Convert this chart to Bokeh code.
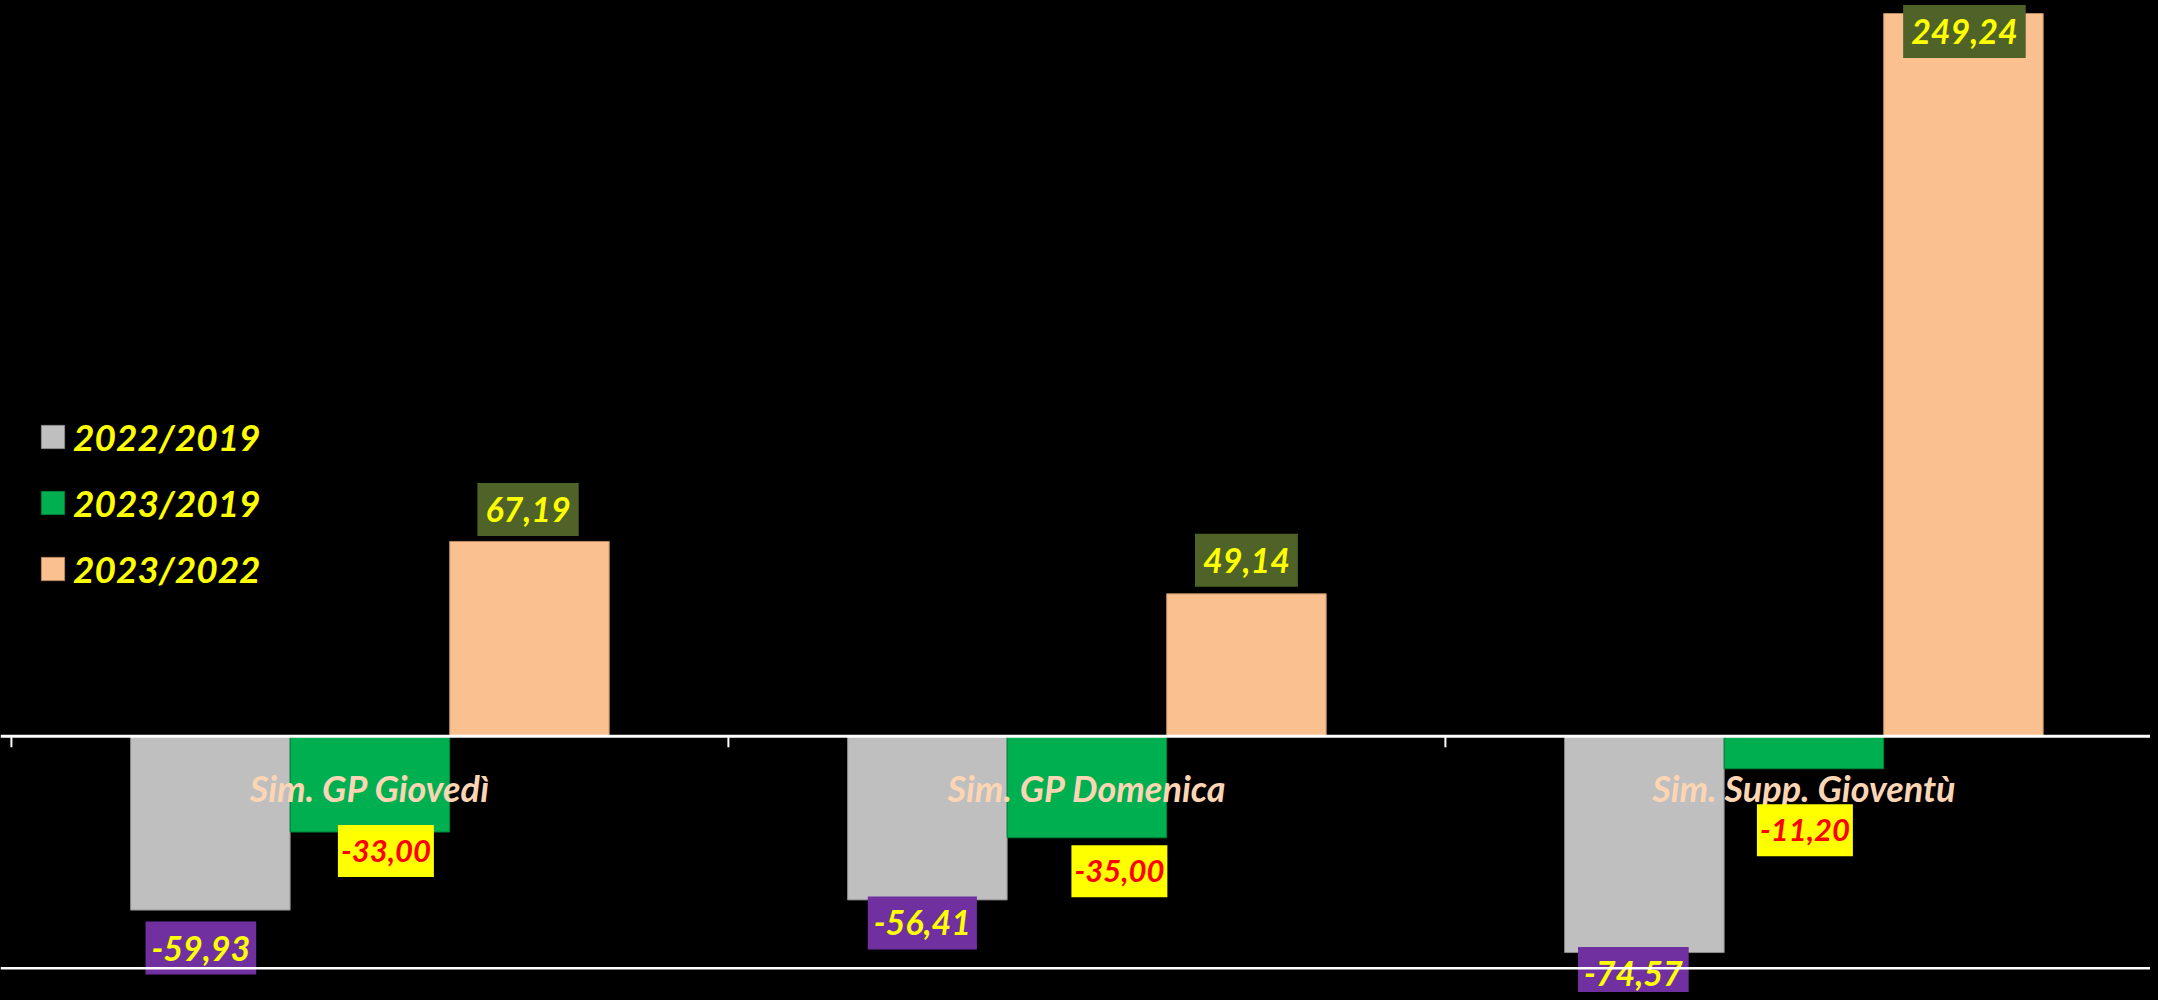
import math
from bokeh.plotting import figure
from bokeh.models import Range1d, Span, Legend, LegendItem, ColumnDataSource
from bokeh.core.properties import value
from bokeh.embed import file_html
from bokeh.resources import INLINE

# ---------------- data ----------------
categories = ["Sim. GP Giovedì", "Sim. GP Domenica", "Sim. Supp. Gioventù"]
series_names = ["2022/2019", "2023/2019", "2023/2022"]
v_2022_2019 = [-59.93, -56.41, -74.57]
v_2023_2019 = [-33.00, -35.00, -11.20]
v_2023_2022 = [67.19, 49.14, 249.24]
axis_min = -80

series_values = [v_2022_2019, v_2023_2019, v_2023_2022]

# ---------------- styles / layout ----------------
FONT = "Lato"
bar_colors = ["#BFBFBF", "#00B050", "#FAC090"]
bar_lines = ["#8C8C8C", "#00803A", "#B98A62"]
label_bg = ["#7030A0", "#FFFF00", "#4F6228"]
label_fg = ["#FFFF00", "#FF0000", "#FFFF00"]
label_size = ["34px", "31px", "34px"]
label_pad = [dict(left=6, right=6, top=14, bottom=14),
             dict(left=3, right=3, top=15, bottom=15),
             dict(left=8, right=8, top=14, bottom=14)]
# manual label placement (screen px, +down) as in the original
label_dx = [[-9.5, -5, -11], [16, 32.5, 1], [-1.4, 0, 1]]
label_dy = [[38, 23, 21], [19, 33.5, 61.5], [-32, -33.5, 18]]

W, H = 2150, 992
PX_PER_CAT = 717.0
PLOT_LEFT = 10.9      # px of category axis start
ZERO_Y = 735.8        # px of value 0
PX_PER_UNIT = 2.90
BAR_W = 0.2225

x_range = Range1d(-PLOT_LEFT / PX_PER_CAT, (W - PLOT_LEFT) / PX_PER_CAT)
y_range = Range1d((ZERO_Y - H) / PX_PER_UNIT, ZERO_Y / PX_PER_UNIT)

p = figure(width=W, height=H, x_range=x_range, y_range=y_range,
           output_backend="svg", toolbar_location=None,
           background_fill_color="black", border_fill_color="black",
           min_border=0, outline_line_color=None)
p.xaxis.visible = False
p.yaxis.visible = False
p.xgrid.visible = False
p.ygrid.visible = False

centers = [i + 0.5 for i in range(len(categories))]

renderers = []
for s, vals in enumerate(series_values):
    xs = [c + (s - 1) * BAR_W for c in centers]
    src = ColumnDataSource(dict(x=xs, top=vals, cat=categories))
    r = p.vbar(x="x", top="top", bottom=0, width=BAR_W, source=src,
               fill_color=bar_colors[s], line_color=bar_lines[s], line_width=1)
    renderers.append(r)

# axis lines
p.add_layout(Span(location=0, dimension="width", line_color="white", line_width=3))
p.add_layout(Span(location=axis_min, dimension="width", line_color="white", line_width=2.5))

# category tick marks (between categories)
p.ray(x=list(range(len(categories) + 1)), y=0, length=11, length_units="screen",
      angle=-math.pi / 2, line_color="white", line_width=2)

# category labels
p.text(x=centers, y=[0] * len(centers), text=categories, text_align="center",
       text_baseline="alphabetic", y_offset=52, text_color="#FCD5B5",
       text_font=value(FONT), text_font_style="bold italic", text_font_size="36px")

# data labels
for s, vals in enumerate(series_values):
    xs = [c + (s - 1) * BAR_W for c in centers]
    txt = [f"{v:.2f}".replace(".", ",") for v in vals]
    src = ColumnDataSource(dict(x=xs, y=vals, text=txt,
                                dx=label_dx[s], dy=label_dy[s]))
    p.text(x="x", y="y", text="text", source=src, x_offset="dx", y_offset="dy",
           text_align="center", text_baseline="middle",
           text_color=label_fg[s], text_font=value(FONT),
           text_font_style="bold italic", text_font_size=label_size[s],
           background_fill_color=label_bg[s], padding=label_pad[s])

legend = Legend(items=[LegendItem(label=n, renderers=[r]) for n, r in zip(series_names, renderers)],
                location=(38, 401), orientation="vertical",
                glyph_width=29, glyph_height=29,
                label_text_font=FONT, label_text_font_size="37px",
                label_text_font_style="bold italic", label_text_color="#FFFF00",
                label_standoff=6, spacing=21, padding=0, margin=0,
                border_line_alpha=0, background_fill_alpha=0)
p.add_layout(legend)

html = file_html(p, INLINE)
html = html.replace("</head>", "<style>html, body { background-color: #000000; }</style>\n</head>", 1)
open("out.html", "w").write(html)
